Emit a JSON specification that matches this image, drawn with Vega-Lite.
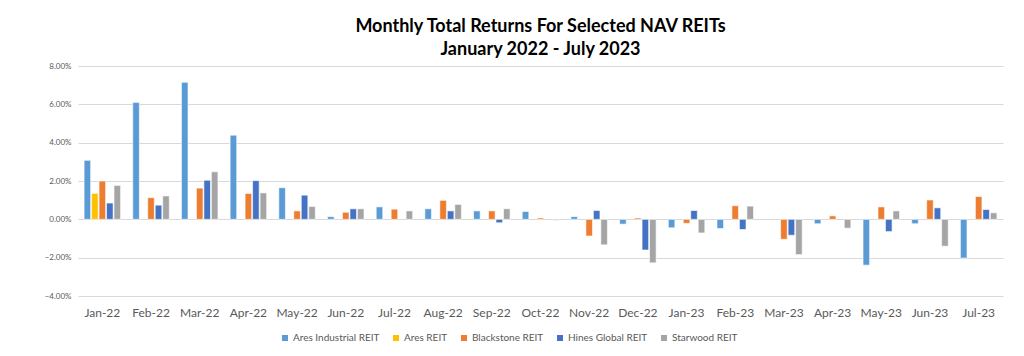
{
  "$schema": "https://vega.github.io/schema/vega-lite/v6.json",
  "width": 1024,
  "height": 356,
  "autosize": {"type": "fit", "contains": "padding"},
  "padding": {"left": 44, "right": 21, "top": 18, "bottom": 38},
  "background": "white",
  "title": {
    "text": ["Monthly Total Returns For Selected NAV REITs", "January 2022 - July 2023"],
    "font": "Lato",
    "fontSize": 18,
    "fontWeight": "bold",
    "color": "#000000",
    "lineHeight": 23,
    "offset": 3,
    "anchor": "middle"
  },
  "data": {
    "values": [
      {"month": "Jan-22", "series": "Ares Industrial REIT", "value": 3.08},
      {"month": "Jan-22", "series": "Ares REIT", "value": 1.35},
      {"month": "Jan-22", "series": "Blackstone REIT", "value": 2.0},
      {"month": "Jan-22", "series": "Hines Global REIT", "value": 0.85},
      {"month": "Jan-22", "series": "Starwood REIT", "value": 1.77},
      {"month": "Feb-22", "series": "Ares Industrial REIT", "value": 6.1},
      {"month": "Feb-22", "series": "Blackstone REIT", "value": 1.13},
      {"month": "Feb-22", "series": "Hines Global REIT", "value": 0.74},
      {"month": "Feb-22", "series": "Starwood REIT", "value": 1.22},
      {"month": "Mar-22", "series": "Ares Industrial REIT", "value": 7.15},
      {"month": "Mar-22", "series": "Blackstone REIT", "value": 1.63},
      {"month": "Mar-22", "series": "Hines Global REIT", "value": 2.04},
      {"month": "Mar-22", "series": "Starwood REIT", "value": 2.48},
      {"month": "Apr-22", "series": "Ares Industrial REIT", "value": 4.39},
      {"month": "Apr-22", "series": "Blackstone REIT", "value": 1.35},
      {"month": "Apr-22", "series": "Hines Global REIT", "value": 2.02},
      {"month": "Apr-22", "series": "Starwood REIT", "value": 1.38},
      {"month": "May-22", "series": "Ares Industrial REIT", "value": 1.65},
      {"month": "May-22", "series": "Blackstone REIT", "value": 0.44},
      {"month": "May-22", "series": "Hines Global REIT", "value": 1.26},
      {"month": "May-22", "series": "Starwood REIT", "value": 0.67},
      {"month": "Jun-22", "series": "Ares Industrial REIT", "value": 0.14},
      {"month": "Jun-22", "series": "Blackstone REIT", "value": 0.37},
      {"month": "Jun-22", "series": "Hines Global REIT", "value": 0.55},
      {"month": "Jun-22", "series": "Starwood REIT", "value": 0.55},
      {"month": "Jul-22", "series": "Ares Industrial REIT", "value": 0.65},
      {"month": "Jul-22", "series": "Blackstone REIT", "value": 0.53},
      {"month": "Jul-22", "series": "Starwood REIT", "value": 0.44},
      {"month": "Aug-22", "series": "Ares Industrial REIT", "value": 0.55},
      {"month": "Aug-22", "series": "Blackstone REIT", "value": 0.99},
      {"month": "Aug-22", "series": "Hines Global REIT", "value": 0.44},
      {"month": "Aug-22", "series": "Starwood REIT", "value": 0.78},
      {"month": "Sep-22", "series": "Ares Industrial REIT", "value": 0.44},
      {"month": "Sep-22", "series": "Blackstone REIT", "value": 0.44},
      {"month": "Sep-22", "series": "Hines Global REIT", "value": -0.18},
      {"month": "Sep-22", "series": "Starwood REIT", "value": 0.55},
      {"month": "Oct-22", "series": "Ares Industrial REIT", "value": 0.41},
      {"month": "Oct-22", "series": "Blackstone REIT", "value": 0.07},
      {"month": "Oct-22", "series": "Starwood REIT", "value": -0.05},
      {"month": "Nov-22", "series": "Ares Industrial REIT", "value": 0.14},
      {"month": "Nov-22", "series": "Blackstone REIT", "value": -0.87},
      {"month": "Nov-22", "series": "Hines Global REIT", "value": 0.46},
      {"month": "Nov-22", "series": "Starwood REIT", "value": -1.33},
      {"month": "Dec-22", "series": "Ares Industrial REIT", "value": -0.25},
      {"month": "Dec-22", "series": "Blackstone REIT", "value": 0.07},
      {"month": "Dec-22", "series": "Hines Global REIT", "value": -1.6},
      {"month": "Dec-22", "series": "Starwood REIT", "value": -2.27},
      {"month": "Jan-23", "series": "Ares Industrial REIT", "value": -0.44},
      {"month": "Jan-23", "series": "Blackstone REIT", "value": -0.21},
      {"month": "Jan-23", "series": "Hines Global REIT", "value": 0.46},
      {"month": "Jan-23", "series": "Starwood REIT", "value": -0.71},
      {"month": "Feb-23", "series": "Ares Industrial REIT", "value": -0.48},
      {"month": "Feb-23", "series": "Blackstone REIT", "value": 0.71},
      {"month": "Feb-23", "series": "Hines Global REIT", "value": -0.53},
      {"month": "Feb-23", "series": "Starwood REIT", "value": 0.69},
      {"month": "Mar-23", "series": "Blackstone REIT", "value": -1.04},
      {"month": "Mar-23", "series": "Hines Global REIT", "value": -0.83},
      {"month": "Mar-23", "series": "Starwood REIT", "value": -1.84},
      {"month": "Apr-23", "series": "Ares Industrial REIT", "value": -0.23},
      {"month": "Apr-23", "series": "Blackstone REIT", "value": 0.18},
      {"month": "Apr-23", "series": "Starwood REIT", "value": -0.46},
      {"month": "May-23", "series": "Ares Industrial REIT", "value": -2.39},
      {"month": "May-23", "series": "Blackstone REIT", "value": 0.65},
      {"month": "May-23", "series": "Hines Global REIT", "value": -0.64},
      {"month": "May-23", "series": "Starwood REIT", "value": 0.44},
      {"month": "Jun-23", "series": "Ares Industrial REIT", "value": -0.23},
      {"month": "Jun-23", "series": "Blackstone REIT", "value": 1.01},
      {"month": "Jun-23", "series": "Hines Global REIT", "value": 0.6},
      {"month": "Jun-23", "series": "Starwood REIT", "value": -1.4},
      {"month": "Jul-23", "series": "Ares Industrial REIT", "value": -2.02},
      {"month": "Jul-23", "series": "Blackstone REIT", "value": 1.19},
      {"month": "Jul-23", "series": "Hines Global REIT", "value": 0.51},
      {"month": "Jul-23", "series": "Starwood REIT", "value": 0.34}
    ]
  },
  "mark": {"type": "bar", "stroke": "white", "strokeWidth": 0.6},
  "encoding": {
    "x": {
      "field": "month",
      "type": "nominal",
      "sort": ["Jan-22","Feb-22","Mar-22","Apr-22","May-22","Jun-22","Jul-22","Aug-22","Sep-22","Oct-22","Nov-22","Dec-22","Jan-23","Feb-23","Mar-23","Apr-23","May-23","Jun-23","Jul-23"],
      "scale": {"paddingInner": 0.25, "paddingOuter": 0.125},
      "axis": {
        "title": null,
        "labelAngle": 0,
        "labelFont": "Lato",
        "labelFontSize": 12,
        "labelColor": "#595959",
        "labelPadding": 11,
        "domain": false,
        "ticks": false,
        "grid": false
      }
    },
    "xOffset": {
      "field": "series",
      "type": "nominal",
      "scale": {"domain": ["Ares Industrial REIT","Ares REIT","Blackstone REIT","Hines Global REIT","Starwood REIT"], "paddingInner": 0.12}
    },
    "y": {
      "field": "value",
      "type": "quantitative",
      "scale": {"domain": [-4, 8], "nice": false},
      "axis": {
        "title": null,
        "values": [-4, -2, 0, 2, 4, 6, 8],
        "labelExpr": "format(datum.value, '.2f') + '%'",
        "labelFont": "Lato",
        "labelFontSize": 8,
        "labelColor": "#595959",
        "labelPadding": 7,
        "domain": false,
        "ticks": false,
        "grid": true,
        "gridColor": "#D9D9D9",
        "gridWidth": 1
      }
    },
    "color": {
      "field": "series",
      "type": "nominal",
      "scale": {
        "domain": ["Ares Industrial REIT","Ares REIT","Blackstone REIT","Hines Global REIT","Starwood REIT"],
        "range": ["#5B9BD5","#FFC000","#ED7D31","#4472C4","#A5A5A5"]
      },
      "legend": {
        "title": null,
        "orient": "none",
        "legendX": 202,
        "legendY": 267,
        "direction": "horizontal",
        "symbolType": "square",
        "symbolSize": 36,
        "symbolStrokeWidth": 0,
        "labelFont": "Lato",
        "labelFontSize": 10,
        "labelColor": "#595959",
        "labelOffset": 3,
        "columnPadding": 11
      }
    }
  },
  "config": {
    "view": {"stroke": null}
  }
}
